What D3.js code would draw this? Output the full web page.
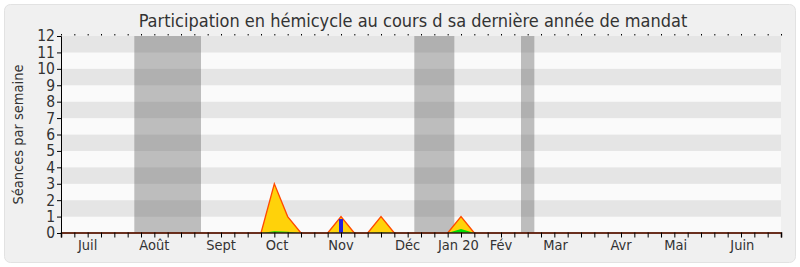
<!DOCTYPE html>
<html>
<head>
<meta charset="utf-8">
<script src="https://cdn.jsdelivr.net/npm/d3@7"></script>
<style>
  body { margin: 0; background: #ffffff; }
  text { font-family: "DejaVu Sans Condensed", "DejaVu Sans", sans-serif; }
</style>
</head>
<body>
<div id="chart"></div>
<script>
// weekly values, week 0 = first week of July
var presence = [0,0,0,0,0,0,0,0,0,0, 0,0,0,0,0,0,3,1,0,0, 0,1,0,0,1,0,0,0,0,0, 1,0,0,0,0,0,0,0,0,0, 0,0,0,0,0,0,0,0,0,0, 0,0,0,0,0];
var interventions = [0,0,0,0,0,0,0,0,0,0, 0,0,0,0,0,0,0.1,0.08,0,0, 0,0.04,0,0,0.04,0,0,0,0,0, 0.25,0,0,0,0,0,0,0,0,0, 0,0,0,0,0,0,0,0,0,0, 0,0,0,0,0];
var questions = [{week: 21, value: 0.85}];
var vacances = [[6, 10], [27, 29], [35, 35]];
var monthLabels = ["Juil", "Août", "Sept", "Oct", "Nov", "Déc", "Jan 20", "Fév", "Mar", "Avr", "Mai", "Juin"];
var monthWeeks = [2, 7, 12, 16.2, 21, 26, 29.8, 33, 37.1, 42, 46.1, 51.1];
var yTicks = [0,1,2,3,4,5,6,7,8,9,10,11,12];

var width = 800, height = 267;
var margin = {left: 61, right: 19, top: 36, bottom: 34};

var svg = d3.select("#chart").append("svg")
    .attr("width", width)
    .attr("height", height);

svg.append("rect")
    .attr("x", 4.5).attr("y", 4.5)
    .attr("width", 791).attr("height", 258)
    .attr("rx", 6)
    .attr("fill", "#f0f0f0")
    .attr("stroke", "#e2e2e2");

var x = d3.scaleLinear().domain([0, 54]).range([margin.left, width - margin.right]);
var y = d3.scaleLinear().domain([0, 12]).range([height - margin.bottom, margin.top]);

// horizontal stripes
svg.selectAll(".stripe")
    .data(yTicks.slice(0, 12))
    .enter().append("rect")
    .attr("x", x(0))
    .attr("width", x(54) - x(0))
    .attr("y", function (d) { return y(d + 1); })
    .attr("height", function (d) { return y(d) - y(d + 1); })
    .attr("fill", function (d) { return d % 2 ? "#e5e5e5" : "#fafafa"; });

// vacation bands
svg.selectAll(".vac")
    .data(vacances)
    .enter().append("rect")
    .attr("x", function (d) { return x(d[0] - 0.5); })
    .attr("width", function (d) { return x(d[1] + 0.5) - x(d[0] - 0.5); })
    .attr("y", y(12))
    .attr("height", y(0) - y(12))
    .attr("fill", "#5a5a5a")
    .attr("opacity", 0.38);

var area = function (vals) {
    return d3.area()
        .x(function (d, i) { return x(i); })
        .y0(y(0))
        .y1(function (d) { return y(d); })(vals);
};
var line = function (vals) {
    return d3.line()
        .x(function (d, i) { return x(i); })
        .y(function (d) { return y(d); })(vals);
};

svg.append("path").attr("d", area(presence)).attr("fill", "#ffd20a");
svg.append("path").attr("d", line(presence))
    .attr("fill", "none").attr("stroke", "#ff4a00").attr("stroke-width", 1.3);
svg.append("path").attr("d", area(interventions)).attr("fill", "#00dd00");

svg.selectAll(".q")
    .data(questions)
    .enter().append("rect")
    .attr("x", function (d) { return x(d.week) - 2; })
    .attr("width", 4)
    .attr("y", function (d) { return y(d.value); })
    .attr("height", function (d) { return y(0) - y(d.value); })
    .attr("fill", "#2222dd");

// axes
var weekTicks = d3.range(0, 55);

var xAxis = svg.append("g")
    .attr("transform", "translate(0," + (y(0) - 0.5) + ")")
    .call(d3.axisBottom(x).tickValues(weekTicks).tickSize(5).tickFormat(""));
xAxis.select(".domain").attr("stroke", "#3a1a14").attr("stroke-width", 1.6);

svg.append("g")
    .attr("transform", "translate(0," + (y(12) - 0.5) + ")")
    .call(d3.axisTop(x).tickValues(weekTicks).tickSize(1.5).tickFormat(""))
    .select(".domain").remove();

svg.selectAll(".month")
    .data(monthLabels)
    .enter().append("text")
    .attr("x", function (d, i) { return x(monthWeeks[i]); })
    .attr("y", 250)
    .attr("text-anchor", "middle")
    .attr("font-size", 14.5)
    .attr("fill", "#333")
    .text(function (d) { return d; });

var yAxis = svg.append("g")
    .attr("transform", "translate(" + x(0) + ",0)")
    .call(d3.axisLeft(y).tickValues(yTicks).tickSize(4).tickPadding(2));
yAxis.select(".domain").attr("stroke", "#000");
yAxis.selectAll("text")
    .attr("font-size", 15.5)
    .attr("fill", "#333")
    .style("font-family", "'DejaVu Sans Condensed', 'DejaVu Sans', sans-serif");

svg.append("text")
    .attr("transform", "translate(23," + ((y(0) + y(12)) / 2) + ") rotate(-90)")
    .attr("text-anchor", "middle")
    .attr("font-size", 14.5)
    .attr("fill", "#333")
    .text("Séances par semaine");

svg.append("text")
    .attr("x", 413)
    .attr("y", 27)
    .attr("text-anchor", "middle")
    .attr("font-size", 18)
    .attr("fill", "#333")
    .text("Participation en hémicycle au cours d sa dernière année de mandat");
</script>
</body>
</html>
